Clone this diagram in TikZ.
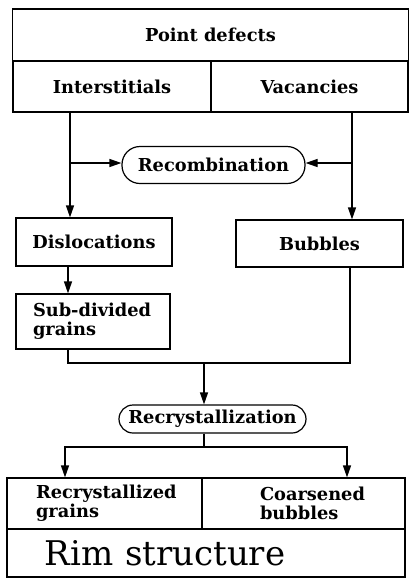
\documentclass[tikz,border=0pt]{standalone}
\usepackage{fontspec}
\setmainfont{DejaVu Serif}
\usetikzlibrary{arrows.meta}
\begin{document}
\begin{tikzpicture}[x=0.5pt, y=-0.5pt, >={Triangle[length=6pt,width=4pt]}]
        \tikzset{
            block/.style={draw, line width=0.6pt, inner sep=0pt, align=center, font=\fontsize{8.9}{9.5}\selectfont\bfseries},
            pill/.style={block, rounded corners=7pt},
            arrow/.style={->, line width=0.6pt},
            link/.style={line width=0.6pt}
        }
        \useasboundingbox (0,0) rectangle (409,579);

        \node[block, minimum width=198pt, minimum height=26pt] (defects) at (210.5,35) {Point defects};
        \node[block, minimum width=99pt, minimum height=25.5pt] (inter) at (112,86.5) {Interstitials};
        \node[block, minimum width=98.5pt, minimum height=25.5pt] (vac) at (309.5,86.5) {Vacancies};

        \node[pill, minimum width=91.5pt, minimum height=18.5pt, rounded corners=9pt] (recomb) at (213.5,165) {Recombination};

        \node[block, minimum width=78pt, minimum height=24pt] (disl) at (94,242) {Dislocations};
        \node[block, minimum width=83.5pt, minimum height=23.5pt] (bubbles) at (319.5,243.5) {Bubbles};
        \node[block, minimum width=77pt, minimum height=27.5pt, align=left, text width=60pt] (subdiv) at (93,321.5) {Sub-divided\\grains};

        \node[pill, minimum width=93.5pt, minimum height=14pt] (recryst) at (212.5,419) {Recrystallization};

        \node[block, minimum width=97.5pt, minimum height=25.5pt, align=left, text width=68.5pt] (grains) at (104.5,503.5) {Recrystallized\\grains};
        \node[block, minimum width=101.5pt, minimum height=25.5pt, align=left, text width=43.5pt] (coarse) at (303.5,503.5) {Coarsened\\bubbles};
        \node[block, minimum width=199pt, minimum height=24pt, align=left, text width=161pt, font=\fontsize{17}{19}\selectfont] (rim) at (206,553) {Rim structure};

        % branch points
        \coordinate (jl) at (70,163);
        \coordinate (jr) at (352,163);
        \coordinate (jd) at (68,363);
        \coordinate (jm) at (204,363);
        \coordinate (jb) at (350,363);
        \coordinate (js) at (204,447);
        \coordinate (ja) at (65,447);
        \coordinate (jc) at (347,447);

        \draw[arrow] (inter.south -| jl) -- (disl.north -| jl);
        \draw[arrow] (vac.south -| jr) -- (bubbles.north -| jr);
        \draw[arrow] (jl) -- (recomb.west |- jl);
        \draw[arrow] (jr) -- (recomb.east |- jr);

        \draw[arrow] (disl.south -| jd) -- (subdiv.north -| jd);
        \draw[link] (subdiv.south -| jd) -- (jd) -- (jb) -- (bubbles.south -| jb);
        \draw[arrow] (jm) -- (recryst.north -| jm);

        \draw[link] (recryst.south -| js) -- (js);
        \draw[arrow] (js) -- (ja) -- (grains.north -| ja);
        \draw[arrow] (js) -- (jc) -- (coarse.north -| jc);
    \end{tikzpicture}
\end{document}
